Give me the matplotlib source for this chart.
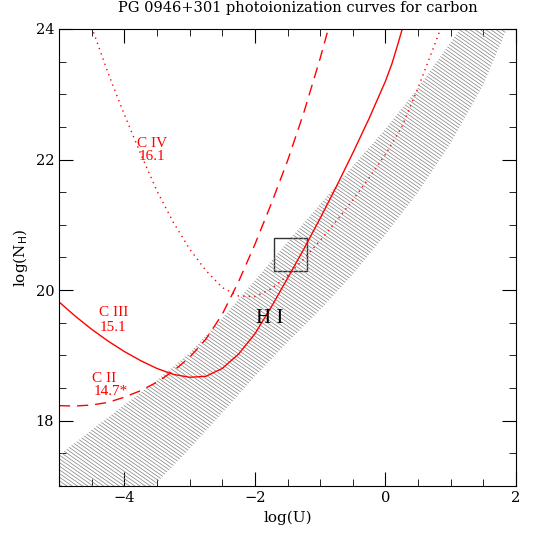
import numpy as np
import matplotlib
matplotlib.use("Agg")
import matplotlib.pyplot as plt
from matplotlib.patches import Polygon, Rectangle
from matplotlib.collections import LineCollection

plt.rcParams['font.family'] = ['DejaVu Serif']

# H I column density band (upper/left edge and lower/right edge)
hi_up_x = [-5.6, -5.0, -4.5, -4.0, -3.5, -3.0, -2.5, -2.0, -1.5, -1.0, -0.5, 0.0, 0.5, 1.0, 1.15, 1.4]
hi_up_y = [17.0, 17.47, 17.86, 18.24, 18.62, 19.04, 19.57, 20.15, 20.74, 21.32, 21.9, 22.47, 23.1, 23.8, 24.0, 24.4]
hi_lo_x = [-5.2, -3.55, -3.0, -2.5, -2.0, -1.5, -1.0, -0.5, 0.0, 0.5, 1.0, 1.5, 1.86, 2.1]
hi_lo_y = [15.5, 17.0, 17.57, 18.12, 18.68, 19.2, 19.7, 20.24, 20.85, 21.5, 22.25, 23.15, 24.0, 24.6]

# C III (solid)
c3_x = [-5.0, -4.75, -4.5, -4.25, -4.0, -3.75, -3.5, -3.25, -3.0, -2.75, -2.5, -2.25, -2.0,
        -1.75, -1.5, -1.25, -1.0, -0.75, -0.5, -0.25, 0.0, 0.1, 0.2, 0.3]
c3_y = [19.82, 19.60, 19.40, 19.22, 19.06, 18.92, 18.80, 18.71, 18.665, 18.68, 18.80, 19.02, 19.33,
        19.74, 20.18, 20.63, 21.10, 21.59, 22.10, 22.63, 23.2, 23.47, 23.8, 24.15]

# C II (dashed)
c2_x = [-5.0, -4.75, -4.5, -4.25, -4.0, -3.75, -3.5, -3.25, -3.0, -2.75, -2.5, -2.25, -2.0,
        -1.75, -1.5, -1.25, -1.0, -0.87]
c2_y = [18.23, 18.225, 18.24, 18.28, 18.36, 18.46, 18.59, 18.76, 18.97, 19.25, 19.63, 20.13, 20.70,
        21.32, 21.98, 22.72, 23.55, 24.02]

# C IV (dotted)
c4_x = [-4.5, -4.25, -4.0, -3.75, -3.5, -3.25, -3.0, -2.75, -2.5, -2.25, -2.0, -1.75, -1.5,
        -1.25, -1.0, -0.75, -0.5, -0.25, 0.0, 0.25, 0.5, 0.75, 0.85]
c4_y = [24.03, 23.33, 22.69, 22.09, 21.52, 21.04, 20.63, 20.30, 20.04, 19.91, 19.90, 20.02, 20.22,
        20.48, 20.76, 21.06, 21.38, 21.72, 22.08, 22.5, 23.1, 23.75, 24.02]

fig = plt.figure(figsize=(5.45, 5.45), dpi=100)
ax = fig.add_axes([0.1083, 0.1083, 0.8385, 0.8385])
ax.set_xlim(-5, 2)
ax.set_ylim(17, 24)

# hatched H I band drawn as clipped parallel lines
band = Polygon(np.column_stack([hi_up_x + hi_lo_x[::-1], hi_up_y + hi_lo_y[::-1]]),
               closed=True, facecolor='none', edgecolor='none')
ax.add_patch(band)
xs = np.array([-6.0, 3.0])
segs = []
for c in np.arange(10.0, 30.0, 0.056):
    segs.append(np.column_stack([xs, -0.7 * xs + c]))
hatch = LineCollection(segs, colors='#808080', linewidths=0.5)
ax.add_collection(hatch)
hatch.set_clip_path(band)

ax.plot(c3_x, c3_y, color='red', lw=1.0)
ax.plot(c2_x, c2_y, color='red', lw=1.0, dashes=(8, 5))
ax.plot(c4_x, c4_y, color='red', lw=1.0, dashes=(1, 3))

ax.add_patch(Rectangle((-1.71, 20.29), 0.51, 0.51, fill=False, edgecolor='#333333', lw=1.0))

lab = dict(color='red', fontsize=11, ha='center', va='center', family='Liberation Serif')
ax.text(-3.58, 22.25, 'C IV', **lab)
ax.text(-3.58, 22.05, '16.1', **lab)
ax.text(-4.17, 19.65, 'C III', **lab)
ax.text(-4.17, 19.43, '15.1', **lab)
ax.text(-4.31, 18.65, 'C II', **lab)
ax.text(-4.2, 18.44, '14.7*', **lab)
ax.text(-1.78, 19.57, 'H I', color='black', fontsize=15, ha='center', va='center',
        family='Liberation Serif')

ax.set_xticks([-4, -2, 0, 2])
ax.set_yticks([18, 20, 22, 24])
ax.set_xticks(np.arange(-5, 2.01, 0.5), minor=True)
ax.set_yticks(np.arange(17, 24.01, 0.5), minor=True)
ax.tick_params(which='both', direction='in', top=True, right=True, labelsize=10.5)
ax.tick_params(which='major', length=10)
ax.tick_params(which='minor', length=5)
ax.set_xticklabels(['\u22124', '\u22122', '0', '2'])

ax.set_xlabel('log(U)', fontsize=11)
ax.set_ylabel('log(N$_{\\rm H}$)', fontsize=11)
fig.text(0.547, 0.985, 'PG 0946+301 photoionization curves for carbon', fontsize=10.5,
         ha='center', va='center')

fig.savefig('out.png', dpi=100)
